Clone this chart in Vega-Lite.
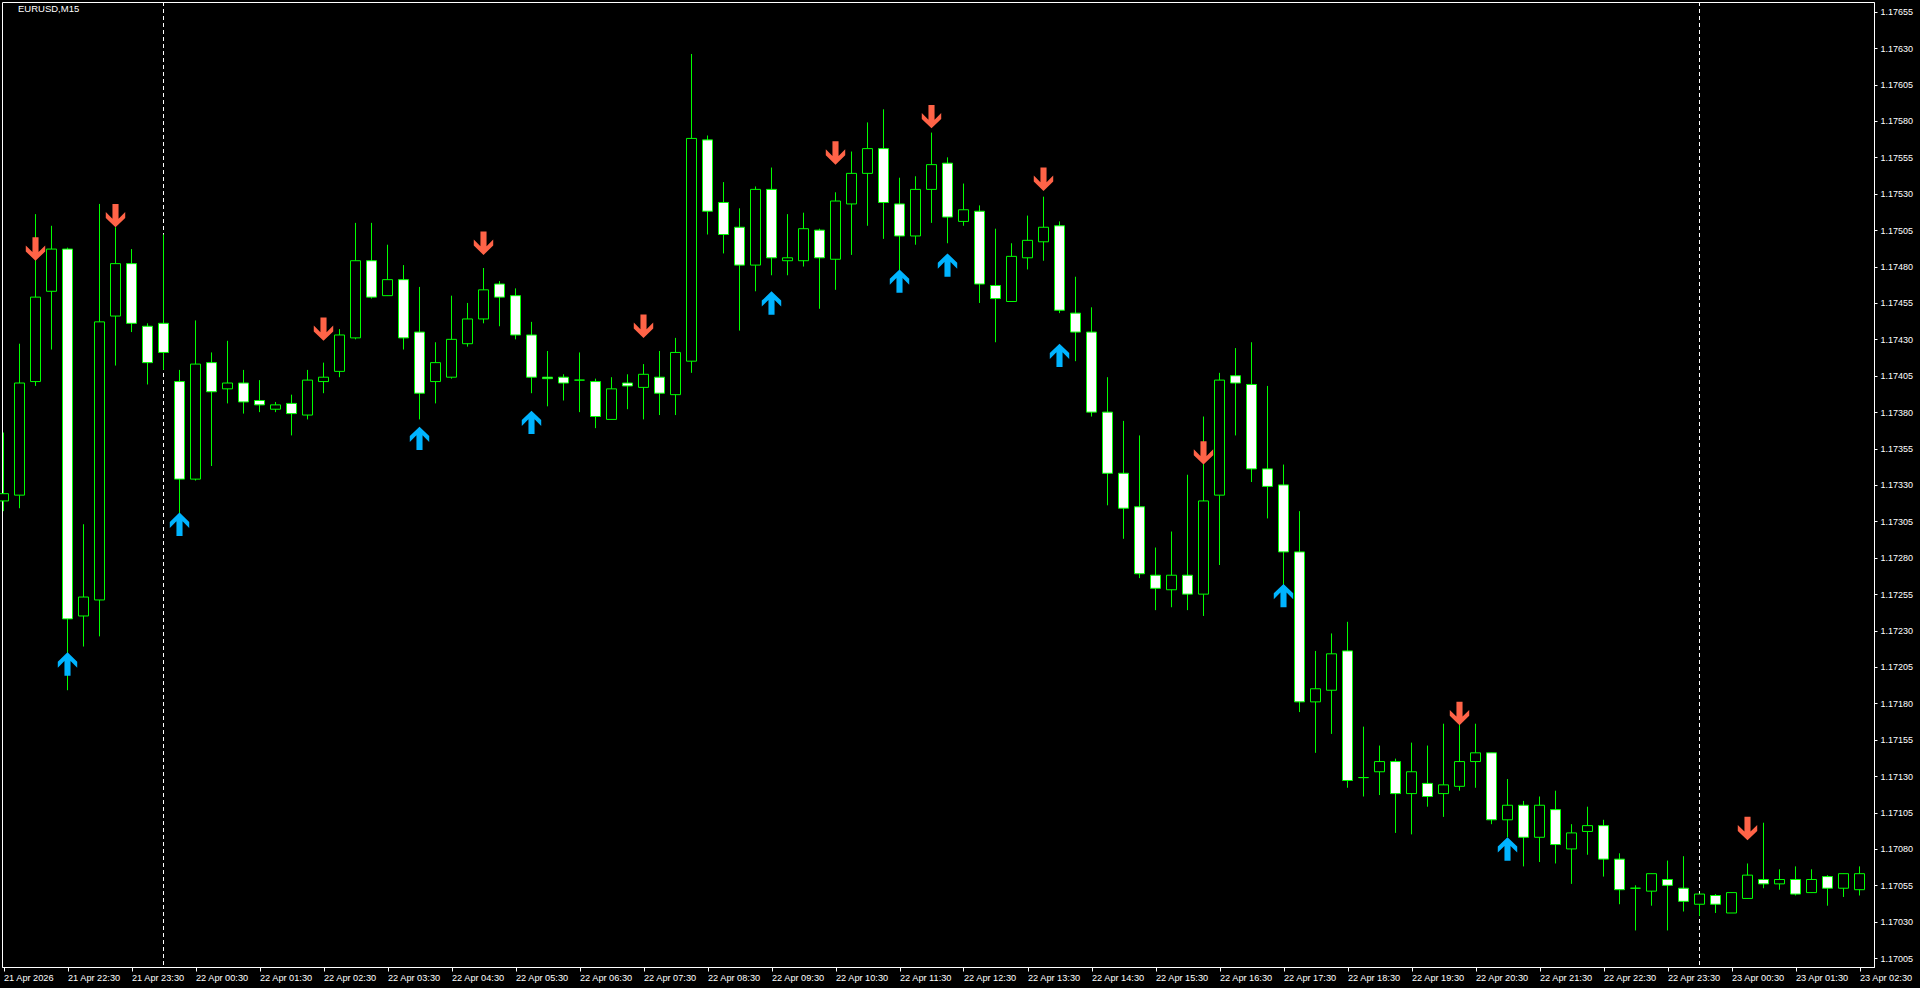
{
  "$schema": "https://vega.github.io/schema/vega-lite/v6.json",
  "width": 1872,
  "height": 965,
  "autosize": {"type": "none"},
  "padding": {"left": 2, "top": 2, "right": 46, "bottom": 21},
  "background": "black",
  "title": {"text": "EURUSD,M15", "anchor": "start", "frame": "group", "orient": "top", "offset": -12, "dx": 16, "color": "white", "font": "Liberation Sans", "fontSize": 9.5, "fontWeight": "normal"},
  "config": {
    "view": {"stroke": "white", "strokeWidth": 1, "fill": "black"},
    "axis": {"labelFont": "Liberation Sans", "labelFontSize": 9.2, "labelColor": "white", "domainColor": "white", "tickColor": "white", "grid": false}
  },
  "datasets": {
    "bars": [
      {"t":"2026-04-21T21:30:00Z","o":1.17319,"h":1.17366,"l":1.17312,"c":1.17324},
      {"t":"2026-04-21T21:45:00Z","o":1.17323,"h":1.17427,"l":1.17314,"c":1.17400},
      {"t":"2026-04-21T22:00:00Z","o":1.17401,"h":1.17516,"l":1.17398,"c":1.17459,"a":"down","ap":1.17492},
      {"t":"2026-04-21T22:15:00Z","o":1.17463,"h":1.17508,"l":1.17423,"c":1.17492},
      {"t":"2026-04-21T22:30:00Z","o":1.17492,"h":1.17493,"l":1.17189,"c":1.17238,"a":"up","ap":1.17207},
      {"t":"2026-04-21T22:45:00Z","o":1.17240,"h":1.17303,"l":1.17219,"c":1.17253},
      {"t":"2026-04-21T23:00:00Z","o":1.17251,"h":1.17523,"l":1.17226,"c":1.17442},
      {"t":"2026-04-21T23:15:00Z","o":1.17446,"h":1.17507,"l":1.17412,"c":1.17482,"a":"down","ap":1.17515},
      {"t":"2026-04-21T23:30:00Z","o":1.17482,"h":1.17492,"l":1.17435,"c":1.17441},
      {"t":"2026-04-21T23:45:00Z","o":1.17439,"h":1.17441,"l":1.17399,"c":1.17414},
      {"t":"2026-04-22T00:00:00Z","o":1.17441,"h":1.17502,"l":1.17409,"c":1.17421},
      {"t":"2026-04-22T00:15:00Z","o":1.17401,"h":1.17409,"l":1.17310,"c":1.17334,"a":"up","ap":1.17303},
      {"t":"2026-04-22T00:30:00Z","o":1.17334,"h":1.17443,"l":1.17333,"c":1.17413},
      {"t":"2026-04-22T00:45:00Z","o":1.17414,"h":1.17421,"l":1.17343,"c":1.17394},
      {"t":"2026-04-22T01:00:00Z","o":1.17396,"h":1.17429,"l":1.17386,"c":1.17400},
      {"t":"2026-04-22T01:15:00Z","o":1.17400,"h":1.17409,"l":1.17379,"c":1.17387},
      {"t":"2026-04-22T01:30:00Z","o":1.17388,"h":1.17402,"l":1.17380,"c":1.17385},
      {"t":"2026-04-22T01:45:00Z","o":1.17382,"h":1.17387,"l":1.17380,"c":1.17385},
      {"t":"2026-04-22T02:00:00Z","o":1.17386,"h":1.17392,"l":1.17364,"c":1.17379},
      {"t":"2026-04-22T02:15:00Z","o":1.17378,"h":1.17409,"l":1.17375,"c":1.17402},
      {"t":"2026-04-22T02:30:00Z","o":1.17401,"h":1.17414,"l":1.17393,"c":1.17404,"a":"down","ap":1.17437},
      {"t":"2026-04-22T02:45:00Z","o":1.17408,"h":1.17437,"l":1.17404,"c":1.17433},
      {"t":"2026-04-22T03:00:00Z","o":1.17431,"h":1.17510,"l":1.17430,"c":1.17484},
      {"t":"2026-04-22T03:15:00Z","o":1.17484,"h":1.17510,"l":1.17458,"c":1.17459},
      {"t":"2026-04-22T03:30:00Z","o":1.17460,"h":1.17495,"l":1.17460,"c":1.17471},
      {"t":"2026-04-22T03:45:00Z","o":1.17471,"h":1.17481,"l":1.17423,"c":1.17431},
      {"t":"2026-04-22T04:00:00Z","o":1.17435,"h":1.17466,"l":1.17375,"c":1.17393,"a":"up","ap":1.17362},
      {"t":"2026-04-22T04:15:00Z","o":1.17401,"h":1.17428,"l":1.17386,"c":1.17414},
      {"t":"2026-04-22T04:30:00Z","o":1.17404,"h":1.17460,"l":1.17403,"c":1.17430},
      {"t":"2026-04-22T04:45:00Z","o":1.17427,"h":1.17455,"l":1.17425,"c":1.17444},
      {"t":"2026-04-22T05:00:00Z","o":1.17444,"h":1.17479,"l":1.17441,"c":1.17464,"a":"down","ap":1.17496},
      {"t":"2026-04-22T05:15:00Z","o":1.17468,"h":1.17470,"l":1.17439,"c":1.17459},
      {"t":"2026-04-22T05:30:00Z","o":1.17460,"h":1.17465,"l":1.17430,"c":1.17433},
      {"t":"2026-04-22T05:45:00Z","o":1.17433,"h":1.17442,"l":1.17393,"c":1.17404,"a":"up","ap":1.17373},
      {"t":"2026-04-22T06:00:00Z","o":1.17404,"h":1.17422,"l":1.17384,"c":1.17403},
      {"t":"2026-04-22T06:15:00Z","o":1.17404,"h":1.17406,"l":1.17388,"c":1.17400},
      {"t":"2026-04-22T06:30:00Z","o":1.17402,"h":1.17421,"l":1.17380,"c":1.17402},
      {"t":"2026-04-22T06:45:00Z","o":1.17401,"h":1.17403,"l":1.17369,"c":1.17377},
      {"t":"2026-04-22T07:00:00Z","o":1.17375,"h":1.17404,"l":1.17375,"c":1.17396},
      {"t":"2026-04-22T07:15:00Z","o":1.17400,"h":1.17406,"l":1.17382,"c":1.17398},
      {"t":"2026-04-22T07:30:00Z","o":1.17397,"h":1.17413,"l":1.17375,"c":1.17406,"a":"down","ap":1.17439},
      {"t":"2026-04-22T07:45:00Z","o":1.17404,"h":1.17422,"l":1.17378,"c":1.17393},
      {"t":"2026-04-22T08:00:00Z","o":1.17392,"h":1.17431,"l":1.17378,"c":1.17421},
      {"t":"2026-04-22T08:15:00Z","o":1.17415,"h":1.17626,"l":1.17407,"c":1.17568},
      {"t":"2026-04-22T08:30:00Z","o":1.17567,"h":1.17570,"l":1.17502,"c":1.17518},
      {"t":"2026-04-22T08:45:00Z","o":1.17524,"h":1.17538,"l":1.17489,"c":1.17502},
      {"t":"2026-04-22T09:00:00Z","o":1.17507,"h":1.17520,"l":1.17436,"c":1.17481},
      {"t":"2026-04-22T09:15:00Z","o":1.17481,"h":1.17535,"l":1.17463,"c":1.17533},
      {"t":"2026-04-22T09:30:00Z","o":1.17533,"h":1.17548,"l":1.17474,"c":1.17486,"a":"up","ap":1.17455},
      {"t":"2026-04-22T09:45:00Z","o":1.17484,"h":1.17516,"l":1.17474,"c":1.17486},
      {"t":"2026-04-22T10:00:00Z","o":1.17484,"h":1.17517,"l":1.17480,"c":1.17506},
      {"t":"2026-04-22T10:15:00Z","o":1.17505,"h":1.17506,"l":1.17451,"c":1.17486},
      {"t":"2026-04-22T10:30:00Z","o":1.17485,"h":1.17531,"l":1.17464,"c":1.17525,"a":"down","ap":1.17558},
      {"t":"2026-04-22T10:45:00Z","o":1.17523,"h":1.17559,"l":1.17488,"c":1.17544},
      {"t":"2026-04-22T11:00:00Z","o":1.17544,"h":1.17579,"l":1.17508,"c":1.17561},
      {"t":"2026-04-22T11:15:00Z","o":1.17561,"h":1.17588,"l":1.17499,"c":1.17524},
      {"t":"2026-04-22T11:30:00Z","o":1.17523,"h":1.17541,"l":1.17477,"c":1.17501,"a":"up","ap":1.17470},
      {"t":"2026-04-22T11:45:00Z","o":1.17501,"h":1.17542,"l":1.17495,"c":1.17533},
      {"t":"2026-04-22T12:00:00Z","o":1.17533,"h":1.17572,"l":1.17510,"c":1.17550,"a":"down","ap":1.17583},
      {"t":"2026-04-22T12:15:00Z","o":1.17551,"h":1.17555,"l":1.17496,"c":1.17514,"a":"up","ap":1.17481},
      {"t":"2026-04-22T12:30:00Z","o":1.17511,"h":1.17537,"l":1.17508,"c":1.17519},
      {"t":"2026-04-22T12:45:00Z","o":1.17518,"h":1.17522,"l":1.17455,"c":1.17468},
      {"t":"2026-04-22T13:00:00Z","o":1.17467,"h":1.17506,"l":1.17428,"c":1.17458},
      {"t":"2026-04-22T13:15:00Z","o":1.17456,"h":1.17496,"l":1.17456,"c":1.17487},
      {"t":"2026-04-22T13:30:00Z","o":1.17486,"h":1.17515,"l":1.17478,"c":1.17498},
      {"t":"2026-04-22T13:45:00Z","o":1.17497,"h":1.17528,"l":1.17484,"c":1.17507,"a":"down","ap":1.17540},
      {"t":"2026-04-22T14:00:00Z","o":1.17508,"h":1.17511,"l":1.17448,"c":1.17450,"a":"up","ap":1.17419},
      {"t":"2026-04-22T14:15:00Z","o":1.17448,"h":1.17473,"l":1.17415,"c":1.17435},
      {"t":"2026-04-22T14:30:00Z","o":1.17435,"h":1.17452,"l":1.17377,"c":1.17380},
      {"t":"2026-04-22T14:45:00Z","o":1.17380,"h":1.17404,"l":1.17316,"c":1.17338},
      {"t":"2026-04-22T15:00:00Z","o":1.17338,"h":1.17374,"l":1.17293,"c":1.17314},
      {"t":"2026-04-22T15:15:00Z","o":1.17315,"h":1.17364,"l":1.17266,"c":1.17269},
      {"t":"2026-04-22T15:30:00Z","o":1.17268,"h":1.17287,"l":1.17244,"c":1.17259},
      {"t":"2026-04-22T15:45:00Z","o":1.17258,"h":1.17298,"l":1.17246,"c":1.17268},
      {"t":"2026-04-22T16:00:00Z","o":1.17268,"h":1.17337,"l":1.17244,"c":1.17255},
      {"t":"2026-04-22T16:15:00Z","o":1.17255,"h":1.17377,"l":1.17240,"c":1.17319,"a":"down","ap":1.17352},
      {"t":"2026-04-22T16:30:00Z","o":1.17323,"h":1.17407,"l":1.17275,"c":1.17402},
      {"t":"2026-04-22T16:45:00Z","o":1.17405,"h":1.17424,"l":1.17364,"c":1.17400},
      {"t":"2026-04-22T17:00:00Z","o":1.17399,"h":1.17428,"l":1.17332,"c":1.17341},
      {"t":"2026-04-22T17:15:00Z","o":1.17341,"h":1.17398,"l":1.17307,"c":1.17329},
      {"t":"2026-04-22T17:30:00Z","o":1.17330,"h":1.17344,"l":1.17261,"c":1.17284,"a":"up","ap":1.17254},
      {"t":"2026-04-22T17:45:00Z","o":1.17284,"h":1.17312,"l":1.17174,"c":1.17181},
      {"t":"2026-04-22T18:00:00Z","o":1.17181,"h":1.17216,"l":1.17146,"c":1.17190},
      {"t":"2026-04-22T18:15:00Z","o":1.17189,"h":1.17228,"l":1.17159,"c":1.17214},
      {"t":"2026-04-22T18:30:00Z","o":1.17216,"h":1.17236,"l":1.17122,"c":1.17127},
      {"t":"2026-04-22T18:45:00Z","o":1.17129,"h":1.17164,"l":1.17116,"c":1.17129},
      {"t":"2026-04-22T19:00:00Z","o":1.17133,"h":1.17151,"l":1.17117,"c":1.17140},
      {"t":"2026-04-22T19:15:00Z","o":1.17140,"h":1.17142,"l":1.17091,"c":1.17118},
      {"t":"2026-04-22T19:30:00Z","o":1.17118,"h":1.17153,"l":1.17090,"c":1.17133},
      {"t":"2026-04-22T19:45:00Z","o":1.17125,"h":1.17151,"l":1.17109,"c":1.17116},
      {"t":"2026-04-22T20:00:00Z","o":1.17118,"h":1.17166,"l":1.17102,"c":1.17124},
      {"t":"2026-04-22T20:15:00Z","o":1.17123,"h":1.17166,"l":1.17120,"c":1.17140,"a":"down","ap":1.17173},
      {"t":"2026-04-22T20:30:00Z","o":1.17140,"h":1.17166,"l":1.17122,"c":1.17146},
      {"t":"2026-04-22T20:45:00Z","o":1.17146,"h":1.17146,"l":1.17097,"c":1.17100},
      {"t":"2026-04-22T21:00:00Z","o":1.17100,"h":1.17128,"l":1.17088,"c":1.17110,"a":"up","ap":1.17080},
      {"t":"2026-04-22T21:15:00Z","o":1.17110,"h":1.17113,"l":1.17068,"c":1.17088},
      {"t":"2026-04-22T21:30:00Z","o":1.17088,"h":1.17116,"l":1.17071,"c":1.17110},
      {"t":"2026-04-22T21:45:00Z","o":1.17107,"h":1.17120,"l":1.17070,"c":1.17083},
      {"t":"2026-04-22T22:00:00Z","o":1.17080,"h":1.17097,"l":1.17056,"c":1.17091},
      {"t":"2026-04-22T22:15:00Z","o":1.17092,"h":1.17109,"l":1.17076,"c":1.17096},
      {"t":"2026-04-22T22:30:00Z","o":1.17096,"h":1.17100,"l":1.17061,"c":1.17073},
      {"t":"2026-04-22T22:45:00Z","o":1.17073,"h":1.17077,"l":1.17042,"c":1.17052},
      {"t":"2026-04-22T23:00:00Z","o":1.17053,"h":1.17055,"l":1.17024,"c":1.17053},
      {"t":"2026-04-22T23:15:00Z","o":1.17051,"h":1.17063,"l":1.17041,"c":1.17063},
      {"t":"2026-04-22T23:30:00Z","o":1.17059,"h":1.17072,"l":1.17024,"c":1.17055},
      {"t":"2026-04-22T23:45:00Z","o":1.17053,"h":1.17075,"l":1.17037,"c":1.17044},
      {"t":"2026-04-23T00:00:00Z","o":1.17042,"h":1.17049,"l":1.17034,"c":1.17049},
      {"t":"2026-04-23T00:15:00Z","o":1.17048,"h":1.17049,"l":1.17036,"c":1.17042},
      {"t":"2026-04-23T00:30:00Z","o":1.17036,"h":1.17050,"l":1.17036,"c":1.17050},
      {"t":"2026-04-23T00:45:00Z","o":1.17046,"h":1.17070,"l":1.17046,"c":1.17062,"a":"down","ap":1.17094},
      {"t":"2026-04-23T01:00:00Z","o":1.17059,"h":1.17098,"l":1.17053,"c":1.17056},
      {"t":"2026-04-23T01:15:00Z","o":1.17056,"h":1.17066,"l":1.17052,"c":1.17059},
      {"t":"2026-04-23T01:30:00Z","o":1.17059,"h":1.17068,"l":1.17048,"c":1.17049},
      {"t":"2026-04-23T01:45:00Z","o":1.17050,"h":1.17066,"l":1.17050,"c":1.17059},
      {"t":"2026-04-23T02:00:00Z","o":1.17061,"h":1.17062,"l":1.17041,"c":1.17053},
      {"t":"2026-04-23T02:15:00Z","o":1.17053,"h":1.17063,"l":1.17047,"c":1.17063},
      {"t":"2026-04-23T02:30:00Z","o":1.17052,"h":1.17068,"l":1.17048,"c":1.17063}
    ],
    "seps": [
      {"t": "2026-04-22T00:00:00Z"},
      {"t": "2026-04-23T00:00:00Z"}
    ]
  },
  "encoding": {
    "x": {
      "field": "t",
      "type": "temporal",
      "scale": {
        "type": "utc",
        "padding": 0,
        "nice": false,
        "domain": [
          {"year": 2026, "month": 4, "date": 21, "hours": 21, "minutes": 28, "seconds": 35, "milliseconds": 625, "utc": true},
          {"year": 2026, "month": 4, "date": 23, "hours": 2, "minutes": 43, "seconds": 35, "milliseconds": 625, "utc": true}
        ]
      },
      "axis": {
        "title": null,
        "orient": "bottom",
        "values": [
          {"year":2026,"month":4,"date":21,"hours":21,"minutes":30,"utc":true},
          {"year":2026,"month":4,"date":21,"hours":22,"minutes":30,"utc":true},
          {"year":2026,"month":4,"date":21,"hours":23,"minutes":30,"utc":true},
          {"year":2026,"month":4,"date":22,"hours":0,"minutes":30,"utc":true},
          {"year":2026,"month":4,"date":22,"hours":1,"minutes":30,"utc":true},
          {"year":2026,"month":4,"date":22,"hours":2,"minutes":30,"utc":true},
          {"year":2026,"month":4,"date":22,"hours":3,"minutes":30,"utc":true},
          {"year":2026,"month":4,"date":22,"hours":4,"minutes":30,"utc":true},
          {"year":2026,"month":4,"date":22,"hours":5,"minutes":30,"utc":true},
          {"year":2026,"month":4,"date":22,"hours":6,"minutes":30,"utc":true},
          {"year":2026,"month":4,"date":22,"hours":7,"minutes":30,"utc":true},
          {"year":2026,"month":4,"date":22,"hours":8,"minutes":30,"utc":true},
          {"year":2026,"month":4,"date":22,"hours":9,"minutes":30,"utc":true},
          {"year":2026,"month":4,"date":22,"hours":10,"minutes":30,"utc":true},
          {"year":2026,"month":4,"date":22,"hours":11,"minutes":30,"utc":true},
          {"year":2026,"month":4,"date":22,"hours":12,"minutes":30,"utc":true},
          {"year":2026,"month":4,"date":22,"hours":13,"minutes":30,"utc":true},
          {"year":2026,"month":4,"date":22,"hours":14,"minutes":30,"utc":true},
          {"year":2026,"month":4,"date":22,"hours":15,"minutes":30,"utc":true},
          {"year":2026,"month":4,"date":22,"hours":16,"minutes":30,"utc":true},
          {"year":2026,"month":4,"date":22,"hours":17,"minutes":30,"utc":true},
          {"year":2026,"month":4,"date":22,"hours":18,"minutes":30,"utc":true},
          {"year":2026,"month":4,"date":22,"hours":19,"minutes":30,"utc":true},
          {"year":2026,"month":4,"date":22,"hours":20,"minutes":30,"utc":true},
          {"year":2026,"month":4,"date":22,"hours":21,"minutes":30,"utc":true},
          {"year":2026,"month":4,"date":22,"hours":22,"minutes":30,"utc":true},
          {"year":2026,"month":4,"date":22,"hours":23,"minutes":30,"utc":true},
          {"year":2026,"month":4,"date":23,"hours":0,"minutes":30,"utc":true},
          {"year":2026,"month":4,"date":23,"hours":1,"minutes":30,"utc":true},
          {"year":2026,"month":4,"date":23,"hours":2,"minutes":30,"utc":true}
        ],
        "labelExpr": "+datum.value < utc(2026, 3, 21, 22, 0) ? '21 Apr 2026' : utcFormat(datum.value, '%d %b %H:%M')",
        "labelAlign": "left",
        "labelBaseline": "top",
        "labelPadding": 2,
        "labelOverlap": false,
        "labelFlush": false,
        "labelBound": false,
        "tickSize": 4,
        "domain": true,
        "grid": false
      }
    }
  },
  "layer": [
    {
      "data": {"name": "seps"},
      "mark": {"type": "rule", "color": "white", "strokeDash": [4, 3], "strokeWidth": 1},
      "encoding": {}
    },
    {
      "data": {"name": "bars"},
      "mark": {"type": "rule", "color": "#00ff00", "strokeWidth": 1},
      "encoding": {
        "y": {
          "field": "l", "type": "quantitative",
          "scale": {"domain": [1.169989, 1.176617], "zero": false, "nice": false, "padding": 0},
          "axis": {
            "title": null, "orient": "right",
            "values": [1.17005,1.1703,1.17055,1.1708,1.17105,1.1713,1.17155,1.1718,1.17205,1.1723,1.17255,1.1728,1.17305,1.1733,1.17355,1.1738,1.17405,1.1743,1.17455,1.1748,1.17505,1.1753,1.17555,1.1758,1.17605,1.1763,1.17655],
            "format": ".5f", "labelAlign": "left", "labelBaseline": "middle", "labelPadding": 3, "tickSize": 3, "labelFontSize": 9,
            "labelOverlap": false, "labelFlush": false, "labelBound": false, "grid": false
          }
        },
        "y2": {"field": "h"}
      }
    },
    {
      "data": {"name": "bars"},
      "mark": {"type": "bar", "width": 10, "stroke": "#00ff00", "strokeWidth": 1},
      "encoding": {
        "y": {
          "field": "o", "type": "quantitative",
          "scale": {"domain": [1.169989, 1.176617], "zero": false, "nice": false, "padding": 0},
          "axis": {
            "title": null, "orient": "right",
            "values": [1.17005,1.1703,1.17055,1.1708,1.17105,1.1713,1.17155,1.1718,1.17205,1.1723,1.17255,1.1728,1.17305,1.1733,1.17355,1.1738,1.17405,1.1743,1.17455,1.1748,1.17505,1.1753,1.17555,1.1758,1.17605,1.1763,1.17655],
            "format": ".5f", "labelAlign": "left", "labelBaseline": "middle", "labelPadding": 3, "tickSize": 3, "labelFontSize": 9,
            "labelOverlap": false, "labelFlush": false, "labelBound": false, "grid": false
          }
        },
        "y2": {"field": "c"},
        "fill": {"condition": {"test": "datum.c < datum.o", "value": "white"}, "value": "black"}
      }
    },
    {
      "data": {"name": "bars"},
      "transform": [{"filter": "datum.a == 'down'"}],
      "mark": {"type": "point", "filled": true, "size": 548, "opacity": 1, "color": "#ff6347", "strokeWidth": 0,
        "shape": "M -0.26 -1 L 0.26 -1 L 0.26 0.26 L 0.83 -0.31 L 0.83 0.2 L 0 1 L -0.83 0.2 L -0.83 -0.31 L -0.26 0.26 Z"},
      "encoding": {
        "y": {
          "field": "ap", "type": "quantitative",
          "scale": {"domain": [1.169989, 1.176617], "zero": false, "nice": false, "padding": 0},
          "axis": {
            "title": null, "orient": "right",
            "values": [1.17005,1.1703,1.17055,1.1708,1.17105,1.1713,1.17155,1.1718,1.17205,1.1723,1.17255,1.1728,1.17305,1.1733,1.17355,1.1738,1.17405,1.1743,1.17455,1.1748,1.17505,1.1753,1.17555,1.1758,1.17605,1.1763,1.17655],
            "format": ".5f", "labelAlign": "left", "labelBaseline": "middle", "labelPadding": 3, "tickSize": 3, "labelFontSize": 9,
            "labelOverlap": false, "labelFlush": false, "labelBound": false, "grid": false
          }
        }
      }
    },
    {
      "data": {"name": "bars"},
      "transform": [{"filter": "datum.a == 'up'"}],
      "mark": {"type": "point", "filled": true, "size": 548, "opacity": 1, "color": "#00b4ff", "strokeWidth": 0,
        "shape": "M -0.26 1 L 0.26 1 L 0.26 -0.26 L 0.83 0.31 L 0.83 -0.2 L 0 -1 L -0.83 -0.2 L -0.83 0.31 L -0.26 -0.26 Z"},
      "encoding": {
        "y": {
          "field": "ap", "type": "quantitative",
          "scale": {"domain": [1.169989, 1.176617], "zero": false, "nice": false, "padding": 0},
          "axis": {
            "title": null, "orient": "right",
            "values": [1.17005,1.1703,1.17055,1.1708,1.17105,1.1713,1.17155,1.1718,1.17205,1.1723,1.17255,1.1728,1.17305,1.1733,1.17355,1.1738,1.17405,1.1743,1.17455,1.1748,1.17505,1.1753,1.17555,1.1758,1.17605,1.1763,1.17655],
            "format": ".5f", "labelAlign": "left", "labelBaseline": "middle", "labelPadding": 3, "tickSize": 3, "labelFontSize": 9,
            "labelOverlap": false, "labelFlush": false, "labelBound": false, "grid": false
          }
        }
      }
    }
  ]
}
